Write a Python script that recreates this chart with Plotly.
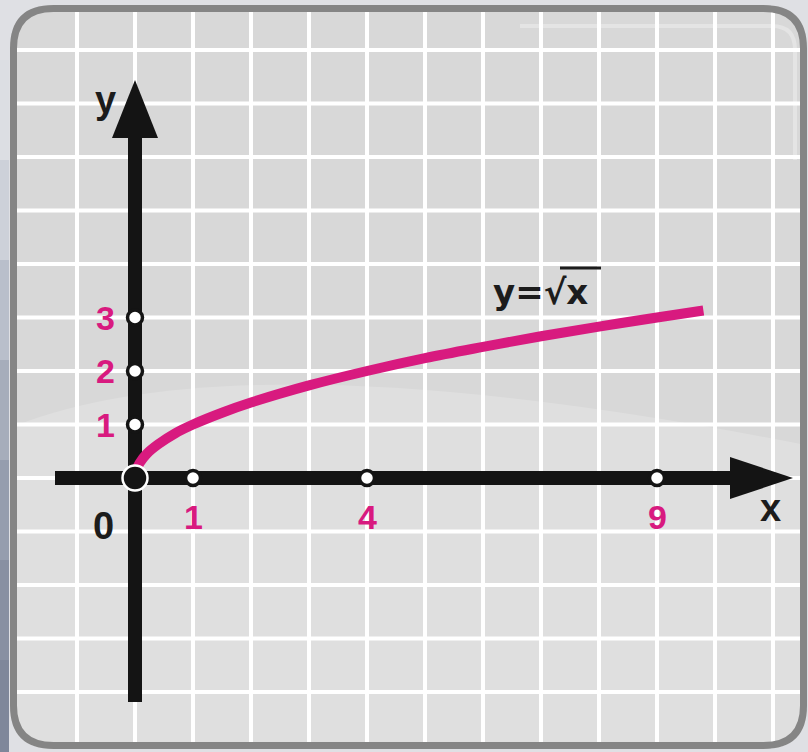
import plotly.graph_objects as go

# curve y = sqrt(x)
curve_x = [0, 0.02, 0.08, 0.2, 0.4, 0.7, 1, 1.5, 2, 3, 4, 5, 6, 7, 8, 9, 9.8]
curve_y = [0, 0.14, 0.28, 0.45, 0.63, 0.84, 1, 1.22, 1.41, 1.73, 2, 2.24, 2.45, 2.65, 2.83, 3, 3.13]

x_ticks = [1, 4, 9]
x_tick_labels = ["1", "4", "9"]
y_ticks = [1, 2, 3]
y_tick_labels = ["1", "2", "3"]

W, H = 808, 752
OX, OY = 135, 478      # origin in pixels
SX, SY = 58, 53.5      # pixels per unit

MAGENTA = "#d81a7f"
INK = "#141414"
FONT = "Liberation Sans"


def fx(p):
    return p / W


def fy(p):
    return 1 - p / H


def rrect(l, t, r, b, rad):
    return (f"M{fx(l+rad)},{fy(t)} L{fx(r-rad)},{fy(t)} Q{fx(r)},{fy(t)} {fx(r)},{fy(t+rad)} "
            f"L{fx(r)},{fy(b-rad)} Q{fx(r)},{fy(b)} {fx(r-rad)},{fy(b)} "
            f"L{fx(l+rad)},{fy(b)} Q{fx(l)},{fy(b)} {fx(l)},{fy(b-rad)} "
            f"L{fx(l)},{fy(t+rad)} Q{fx(l)},{fy(t)} {fx(l+rad)},{fy(t)} Z")


fig = go.Figure()

fig.add_trace(go.Scatter(x=curve_x, y=curve_y, mode="lines",
                         line=dict(color=MAGENTA, width=10, shape="spline"),
                         hoverinfo="skip"))

fig.add_trace(go.Scatter(x=x_ticks, y=[0] * len(x_ticks), mode="markers",
                         marker=dict(size=15, color="white", line=dict(color=INK, width=3.5))))
fig.add_trace(go.Scatter(x=[0] * len(y_ticks), y=y_ticks, mode="markers",
                         marker=dict(size=15, color="white", line=dict(color=INK, width=3.5))))
fig.add_trace(go.Scatter(x=[0], y=[0], mode="markers",
                         marker=dict(size=25, color=INK, line=dict(color="white", width=2.5))))

shapes = []
# soft glossy band on the board
shapes.append(dict(type="path", xref="paper", yref="paper", layer="below",
                   path=(f"M{fx(17)},{fy(425)} Q{fx(250)},{fy(335)} {fx(806)},{fy(445)} "
                         f"L{fx(806)},{fy(748)} L{fx(17)},{fy(748)} Z"),
                   fillcolor="rgba(255,255,255,0.18)", line=dict(width=0)))
# white grid
for k in range(-1, 13):
    shapes.append(dict(type="line", xref="x", yref="paper", layer="below",
                       x0=k, x1=k, y0=0, y1=1, line=dict(color="white", width=4)))
for k in range(-5, 9):
    shapes.append(dict(type="line", xref="paper", yref="y", layer="below",
                       x0=0, x1=1, y0=k, y1=k, line=dict(color="white", width=4)))
# outside of the board
outer = "M0,0 L1,0 L1,1 L0,1 Z "
shapes.append(dict(type="path", xref="paper", yref="paper", layer="below",
                   path=outer + rrect(10, 5, 807, 749, 44),
                   fillcolor="#dfe0e4", line=dict(width=0)))
# bluish strip on the far left
strip_cols = ["#dcdee3", "#cdd1d9", "#b9bfcb", "#a6adbb", "#959dae", "#8890a2", "#7f879a"]
for i, c in enumerate(strip_cols):
    y0 = 60 + i * 100
    shapes.append(dict(type="rect", xref="paper", yref="paper", layer="below",
                       x0=0, x1=fx(9), y0=fy(y0 + 100), y1=fy(y0),
                       fillcolor=c, line=dict(width=0)))
# board rim
shapes.append(dict(type="path", xref="paper", yref="paper", layer="below",
                   path=rrect(13.5, 8.5, 803.5, 745.5, 40),
                   line=dict(color="#858585", width=7)))
# highlight on the upper right rim
shapes.append(dict(type="path", xref="paper", yref="paper", layer="below",
                   path=f"M{fx(520)},{fy(26)} L{fx(772)},{fy(26)} Q{fx(795)},{fy(26)} {fx(795)},{fy(50)} L{fx(795)},{fy(160)}",
                   line=dict(color="rgba(255,255,255,0.3)", width=4)))

# axes with arrows
ax_w = 14
shapes.append(dict(type="line", xref="x", yref="y", layer="below",
                   x0=(55 - OX) / SX, x1=(735 - OX) / SX, y0=0, y1=0,
                   line=dict(color=INK, width=ax_w)))
shapes.append(dict(type="line", xref="x", yref="y", layer="below",
                   x0=0, x1=0, y0=(OY - 702) / SY, y1=(OY - 133) / SY,
                   line=dict(color=INK, width=ax_w)))
tx, bx, hh = (793 - OX) / SX, (730 - OX) / SX, 21 / SY
shapes.append(dict(type="path", xref="x", yref="y", layer="below",
                   path=f"M{bx},{-hh} L{tx},0 L{bx},{hh} Z",
                   fillcolor=INK, line=dict(width=0)))
ty, by, hw = (OY - 80) / SY, (OY - 138) / SY, 23 / SX
shapes.append(dict(type="path", xref="x", yref="y", layer="below",
                   path=f"M{-hw},{by} L0,{ty} L{hw},{by} Z",
                   fillcolor=INK, line=dict(width=0)))
# bar over the x of the formula
shapes.append(dict(type="line", xref="paper", yref="paper", layer="above",
                   x0=fx(560), x1=fx(601), y0=fy(268), y1=fy(268),
                   line=dict(color="#1c1c1c", width=3)))
fig.update_layout(shapes=shapes)

ann = []
for v, t in zip(x_ticks, x_tick_labels):
    ann.append(dict(x=v, y=(OY - 517) / SY, text=f"<b>{t}</b>", showarrow=False,
                    font=dict(family=FONT, size=34, color=MAGENTA)))
for v, t in zip(y_ticks, y_tick_labels):
    ann.append(dict(x=(105 - OX) / SX, y=v, text=f"<b>{t}</b>", showarrow=False,
                    font=dict(family=FONT, size=34, color=MAGENTA)))
ann.append(dict(x=(103 - OX) / SX, y=(OY - 526) / SY, text="<b>0</b>", showarrow=False,
                font=dict(family=FONT, size=38, color="#1c1c1c")))
ann.append(dict(x=(770 - OX) / SX, y=(OY - 508) / SY, text="<b>x</b>", showarrow=False,
                font=dict(family=FONT, size=38, color="#1c1c1c")))
ann.append(dict(x=(105 - OX) / SX, y=(OY - 100) / SY, text="<b>y</b>", showarrow=False,
                font=dict(family=FONT, size=38, color="#1c1c1c")))
ann.append(dict(x=(540 - OX) / SX, y=(OY - 292) / SY, text="<b>y=√x</b>", showarrow=False,
                font=dict(family="DejaVu Sans", size=34, color="#1c1c1c")))
fig.update_layout(annotations=ann)

fig.update_xaxes(range=[-OX / SX, (W - OX) / SX], showgrid=False, zeroline=False,
                 showticklabels=False, showline=False, fixedrange=True)
fig.update_yaxes(range=[-(H - OY) / SY, OY / SY], showgrid=False, zeroline=False,
                 showticklabels=False, showline=False, fixedrange=True)

fig.update_layout(width=W, height=H, margin=dict(l=0, r=0, t=0, b=0),
                  paper_bgcolor="#dfe0e4", plot_bgcolor="#d8d8d8",
                  showlegend=False)

fig.write_html("out.html", config={"displayModeBar": False},
               post_script="document.body.style.margin='0';")
